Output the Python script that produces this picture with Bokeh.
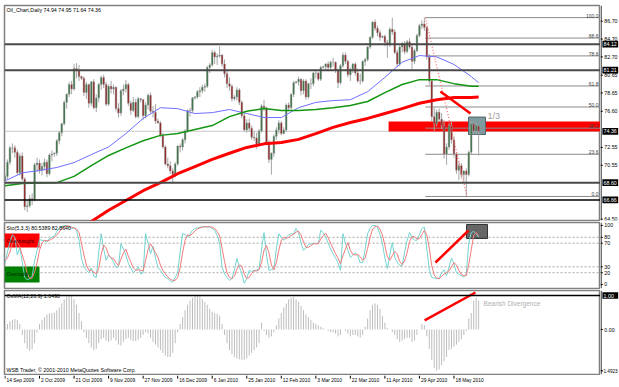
from bokeh.plotting import figure
from bokeh.models import Range1d, Span, ColumnDataSource
from bokeh.layouts import column, row
from bokeh.embed import file_html
from bokeh.resources import INLINE
from bokeh.core.properties import value

# ---------------- data ----------------
opens = [68.9,69.3,70.9,72.5,72.5,72.0,69.7,71.6,69.0,65.9,
         66.0,66.8,66.7,70.6,70.8,70.0,70.4,70.9,69.6,71.7,
         71.8,71.9,73.3,74.2,75.2,77.6,78.5,79.6,79.1,81.4,
         81.2,80.5,80.3,78.7,79.6,77.5,79.9,77.0,78.1,79.6,
         80.4,79.6,77.4,79.4,79.1,79.3,76.9,76.4,78.9,79.1,
         79.6,77.5,76.7,77.6,76.0,78.0,77.9,76.1,77.3,78.4,
         76.6,76.5,75.5,75.3,73.9,72.6,70.7,70.5,69.9,69.5,
         70.7,72.7,72.6,73.4,74.4,76.7,76.7,78.1,78.2,78.8,
         78.9,79.3,79.4,81.5,81.8,83.2,82.7,82.8,82.9,81.9,
         80.8,79.7,79.4,78.0,78.2,79.0,77.6,76.1,74.5,75.3,
         74.7,73.7,73.6,72.9,74.4,77.2,77.0,73.1,71.2,71.9,
         73.8,74.5,75.3,74.1,74.5,77.3,77.0,78.5,79.8,79.9,
         80.2,78.9,80.0,78.2,79.7,79.7,80.9,80.9,80.2,81.5,
         81.6,81.9,81.5,82.1,82.1,81.2,79.8,81.7,82.9,82.2,
         80.7,81.3,81.9,80.9,80.0,80.0,82.2,82.4,83.8,84.9,
         86.6,85.9,85.4,84.9,85.0,84.3,84.1,85.8,85.5,83.2,
         81.9,83.8,84.2,83.3,84.4,83.8,82.2,83.4,85.1,86.2,
         86.4,86.0,82.7,80.0,76.0,75.2,76.5,75.7,75.0,71.8,
         72.6,75.0,73.4,71.8,70.0,70.5,69.5,69.9,69.5,72.0,
         75.2,74.4,74.94]
highs = [69.6,71.2,72.7,73.0,72.8,72.3,71.9,72.0,69.2,66.6,
         67.2,67.4,70.8,71.4,71.2,70.8,71.3,71.2,71.9,72.2,
         72.0,73.5,74.4,75.3,77.8,78.6,79.9,80.0,81.9,82.0,
         81.8,80.6,80.5,79.9,79.7,80.0,80.2,78.5,79.8,80.6,
         80.7,79.9,79.6,80.0,79.6,79.4,77.5,79.1,79.6,80.1,
         79.8,77.8,78.2,78.0,78.2,78.1,78.0,77.6,78.6,78.7,
         77.2,77.4,75.8,75.5,74.2,72.8,71.4,71.0,70.2,70.9,
         72.8,73.0,73.6,74.6,76.8,77.0,78.2,78.3,79.0,79.3,
         79.6,79.7,81.7,82.0,83.5,83.4,83.1,83.9,83.0,82.4,
         81.2,80.4,79.6,78.4,79.3,79.2,77.8,76.4,75.7,75.8,
         75.0,74.4,74.2,74.6,77.4,77.9,77.1,73.4,72.0,74.0,
         74.8,75.6,75.5,74.8,77.5,77.6,78.6,80.0,80.0,80.5,
         80.3,80.2,80.2,79.8,80.3,81.0,81.2,81.0,81.7,81.7,
         82.0,82.2,82.3,82.6,82.2,81.4,81.9,83.2,83.2,82.4,
         81.5,82.0,82.1,81.4,80.8,82.3,82.6,83.9,85.0,86.7,
         86.9,86.2,85.7,85.1,85.2,84.6,86.0,87.1,85.8,83.5,
         84.0,84.4,84.5,84.6,84.8,84.2,83.6,85.3,86.4,86.8,
         87.1,86.2,83.0,80.2,77.0,76.8,76.9,76.4,75.6,73.0,
         75.3,75.4,73.8,72.0,70.9,70.8,70.0,70.2,72.2,75.5,
         75.5,75.3,74.95]
lows = [68.4,69.0,70.6,71.9,71.4,69.5,69.4,68.8,65.5,65.3,
        65.8,66.1,66.5,69.8,69.6,69.4,70.0,69.2,69.4,71.0,
        71.5,71.6,72.9,73.8,75.0,76.9,78.2,78.5,78.9,80.3,
        80.0,80.1,78.3,78.0,77.0,77.2,76.8,76.5,77.6,79.0,
        79.2,77.2,77.2,78.6,78.5,76.6,75.9,76.1,78.4,78.7,
        77.2,76.2,76.5,75.8,75.8,77.6,75.6,75.8,76.8,76.4,
        75.9,75.2,75.2,73.7,72.4,70.5,70.2,69.6,68.6,69.2,
        70.5,72.0,72.2,73.0,74.2,76.0,76.5,77.9,78.0,78.2,
        78.6,78.8,79.2,80.9,81.6,81.9,81.8,82.6,81.6,80.4,
        79.2,78.9,77.7,77.8,77.8,77.3,75.8,74.3,74.2,74.3,
        73.4,73.3,72.4,72.7,74.2,76.6,72.9,70.8,69.5,71.5,
        73.4,74.1,73.9,74.0,74.3,76.6,76.8,78.2,79.7,79.5,
        78.4,78.5,77.9,78.0,79.1,79.4,80.3,80.0,80.0,81.4,
        81.2,81.1,81.3,81.6,80.9,79.2,79.6,81.5,81.9,80.4,
        80.0,80.9,80.6,79.8,79.6,79.8,81.7,82.2,83.6,84.7,
        85.6,85.0,84.5,84.8,83.9,82.6,83.8,85.2,83.0,81.6,
        81.7,83.2,83.0,83.1,83.6,81.3,81.9,83.2,84.9,85.8,
        85.6,82.4,79.6,75.5,74.4,74.9,75.4,74.6,71.3,70.6,
        72.3,73.0,71.4,69.6,68.9,69.1,68.8,67.1,69.3,71.8,
        74.0,74.0,71.64]
closes = [69.3,70.9,72.5,72.5,72.0,69.7,71.6,69.0,65.9,66.0,
          66.8,66.7,70.6,70.8,70.0,70.4,70.9,69.6,71.7,71.8,
          71.9,73.3,74.2,75.2,77.6,78.5,79.6,79.1,81.4,81.2,
          80.5,80.3,78.7,79.6,77.5,79.9,77.0,78.1,79.6,80.4,
          79.6,77.4,79.4,79.1,79.3,76.9,76.4,78.9,79.1,79.6,
          77.5,76.7,77.6,76.0,78.0,77.9,76.1,77.3,78.4,76.6,
          76.5,75.5,75.3,73.9,72.6,70.7,70.5,69.9,69.5,70.7,
          72.7,72.6,73.4,74.4,76.7,76.7,78.1,78.2,78.8,78.9,
          79.3,79.4,81.5,81.8,83.2,82.7,82.8,82.9,81.9,80.8,
          79.7,79.4,78.0,78.2,79.0,77.6,76.1,74.5,75.3,74.7,
          73.7,73.6,72.9,74.4,77.2,77.0,73.1,71.2,71.9,73.8,
          74.5,75.3,74.1,74.5,77.3,77.0,78.5,79.8,79.9,80.2,
          78.9,80.0,78.2,79.7,79.7,80.9,80.9,80.2,81.5,81.6,
          81.9,81.5,82.1,82.1,81.2,79.8,81.7,82.9,82.2,80.7,
          81.3,81.9,80.9,80.0,80.0,82.2,82.4,83.8,84.9,86.6,
          85.9,85.4,84.9,85.0,84.3,84.1,85.8,85.5,83.2,81.9,
          83.8,84.2,83.3,84.4,83.8,82.2,83.4,85.1,86.2,86.4,
          86.0,82.7,80.0,76.0,75.2,76.5,75.7,75.0,71.8,72.6,
          75.0,73.4,71.8,70.0,70.5,69.5,69.9,69.5,72.0,75.2,
          74.4,75.0,74.36]

ma_idx = [0,7,14,21,28,35,42,49,56,63,70,77,84,91,98,105,112,119,126,133,140,147,154,161,168,175,182,189,192]
ma_blue = [68.8,69.7,69.96,70.3,70.85,71.75,72.6,74.1,75.8,77.0,76.9,76.35,76.45,76.8,76.35,75.9,75.9,77.0,77.6,77.8,77.9,78.8,80.4,82.1,82.85,82.7,81.85,80.5,79.8]
ma_green = [68.26,68.5,68.56,68.6,69.3,70.5,71.65,72.5,73.3,73.9,74.1,74.55,75.0,76.0,76.6,76.9,76.7,76.7,76.8,77.0,77.25,77.7,78.7,79.6,80.15,80.15,79.7,79.4,79.4]
ma_red_idx = [28,35,42,49,56,63,70,77,84,91,98,105,112,119,126,133,140,147,154,161,168,175,182,189,192]
ma_red = [63.0,64.25,65.5,66.6,67.7,68.6,69.6,70.4,71.2,71.9,72.55,72.95,73.1,73.45,74.1,74.8,75.35,75.8,76.35,76.9,77.5,77.9,78.15,78.15,78.2]

stoch_k = [36,55,72,84,80,50,62,38,12,8,
           10,14,40,58,76,75,74,72,78,80,
           82,90,96,98,100,100,97,95,96,92,
           75,45,29,24,20,28,14,12,55,86,
           60,41,50,45,38,29,30,69,60,50,
           36,28,20,24,30,18,20,86,70,52,
           65,45,29,24,18,12,10,6,4,12,
           20,55,86,85,80,85,92,95,96,97,
           98,98,97,98,95,92,83,70,29,18,
           12,7,10,25,44,30,18,2,10,24,
           22,24,24,27,60,88,50,24,25,27,
           60,86,80,75,80,84,86,86,95,88,
           70,58,62,68,69,69,70,69,92,88,
           80,70,60,52,45,37,24,86,70,58,
           46,50,54,49,37,37,60,86,95,100,
           100,97,85,69,45,27,50,71,46,38,
           32,32,55,75,88,80,75,75,85,95,
           97,60,25,12,11,10,10,20,25,15,
           30,45,35,20,17,15,13,18,70,88,
           90,86,80.54]
stoch_d = [40,45,55,70,78,72,64,50,37,19,
           10,11,21,37,58,70,75,74,75,77,
           80,84,89,95,98,99,99,97,96,94,
           88,70,50,33,24,24,21,18,27,51,
           67,62,50,45,44,37,32,43,53,60,
           48,38,28,24,25,24,23,41,59,69,
           62,54,46,33,24,18,13,9,7,7,
           12,29,54,75,84,83,86,91,94,96,
           97,98,98,98,97,95,90,82,61,39,
           20,12,10,14,26,33,31,17,10,12,
           19,23,23,25,37,58,66,54,33,25,
           37,58,75,80,78,80,83,85,89,90,
           84,72,63,63,66,69,69,69,77,83,
           87,79,70,61,52,45,35,49,60,71,
           58,51,50,51,47,41,45,61,80,94,
           98,99,94,84,66,47,41,49,56,52,
           39,34,40,54,73,81,81,77,78,85,
           92,84,61,32,16,11,10,14,18,20,
           23,30,37,33,24,17,15,15,34,59,
           83,88,82.86]
osma = [0.10,0.20,0.30,0.35,0.38,0.35,0.20,-0.20,-0.50,-0.70,
        -0.78,-0.72,-0.50,-0.10,0.20,0.35,0.45,0.55,0.58,0.60,
        0.62,0.70,0.80,0.95,1.10,1.20,1.25,1.24,1.10,0.90,
        0.60,0.30,-0.10,-0.30,-0.50,-0.65,-0.75,-0.70,-0.50,-0.35,
        -0.30,-0.40,-0.46,-0.40,-0.30,-0.40,-0.55,-0.58,-0.45,-0.35,
        -0.30,-0.38,-0.42,-0.42,-0.38,-0.30,-0.20,-0.10,-0.15,-0.30,
        -0.45,-0.55,-0.65,-0.75,-0.85,-0.95,-1.00,-1.00,-0.85,-0.50,
        -0.10,0.20,0.45,0.70,0.90,1.05,1.15,1.22,1.24,1.20,
        1.10,1.00,0.90,0.75,0.65,0.60,0.57,0.50,0.20,-0.20,
        -0.50,-0.75,-0.90,-1.00,-1.05,-1.08,-1.10,-1.10,-1.05,-0.95,
        -0.85,-0.75,-0.65,-0.50,0.25,-0.05,-0.20,-0.30,-0.25,-0.10,
        0.15,0.40,0.60,0.80,0.95,1.10,1.15,1.18,1.10,1.00,
        0.85,0.70,0.55,0.45,0.35,0.25,0.20,0.15,0.10,0.05,
        0.00,-0.05,-0.10,-0.10,-0.15,-0.25,-0.20,0.00,-0.05,-0.15,
        -0.25,-0.20,-0.20,-0.25,-0.30,-0.20,0.10,0.40,0.70,0.90,
        0.95,0.90,0.75,0.50,0.25,0.05,0.00,-0.10,-0.20,-0.35,
        -0.45,-0.40,-0.35,-0.30,-0.30,-0.45,-0.40,-0.20,0.00,0.20,
        0.15,-0.25,-0.70,-1.10,-1.40,-1.49,-1.45,-1.30,-1.15,-1.00,
        -0.75,-0.70,-0.62,-0.55,-0.45,-0.35,-0.20,-0.05,0.40,0.60,
        1.05,1.15,1.05]

date_ticks = [0,14,28,42,56,70,84,98,112,126,140,154,168,182]
date_labels = ["14 Sep 2009","2 Oct 2009","21 Oct 2009","9 Nov 2009","27 Nov 2009",
               "16 Dec 2009","6 Jan 2010","25 Jan 2010","12 Feb 2010","3 Mar 2010",
               "22 Mar 2010","11 Apr 2010","29 Apr 2010","18 May 2010"]
price_ticks = [86.70,84.70,82.70,80.65,78.65,76.60,72.55,70.55,64.50]
price_tick_labels = ["86.70","84.70","82.70","80.65","78.65","76.60","72.55","70.55","64.50"]
stoch_ticks = [100,80,70,30,20,0]
stoch_tick_labels = ["100","80","70","30","20","0"]
stoch_levels = [80,70,30,20]
osma_ticks = [0.0]
osma_tick_labels = ["0.00"]
hlines = [84.12,81.21,68.60,66.66]
hline_labels = ["84.12","81.21","68.60","66.66"]
last_price = 74.36
last_label = "74.36"
fib_names = ["100.0","88.6","78.6","61.8","50.0","38.2","23.6","0.0"]
fib_prices = [87.10,84.81,82.81,79.44,77.08,74.71,71.78,67.05]
fib_anchor_idx = [170.4,187.3]
zone_price = [74.33,75.46]
trend_idx = [176.5,188.7]
trend_price = [78.82,76.35]
box_idx = [187.9,194.8]
box_price = [74.0,75.95]
sto_line_idx = [174.5,187.9]
sto_line_val = [37.3,91.5]
osma_line_idx = [170.1,190.7]
osma_line_val = [0.33,1.345]
osma_low = -1.4923
osma_low_label = "-1.4923"
osma_mark = 1.236
osma_mark_label = "1.00"

FONT = value("Liberation Sans")
FS = value("5.3px")
XR = Range1d(-0.2, 241.4)


def panel(fh, yr, top, bottom):
    p = figure(frame_width=596, frame_height=fh, x_range=XR, y_range=yr,
               output_backend="svg", toolbar_location=None,
               min_border_left=4, min_border_right=0,
               min_border_top=top, min_border_bottom=bottom,
               x_axis_location=None, y_axis_location=None)
    p.grid.visible = False
    p.outline_line_color = "#808080"
    p.outline_line_width = 1.5
    p.background_fill_color = "white"
    p.border_fill_color = "white"
    return p


def strip(fh, yr, top, bottom, ticks, labels):
    s = figure(frame_width=19, frame_height=fh, x_range=Range1d(0, 1), y_range=yr,
               output_backend="svg", toolbar_location=None,
               min_border_left=0, min_border_right=0,
               min_border_top=top, min_border_bottom=bottom,
               x_axis_location=None, y_axis_location=None)
    s.grid.visible = False
    s.outline_line_color = None
    s.border_fill_color = "white"
    s.add_layout(Span(location=0.03, dimension="height", line_color="black", line_width=1))
    s.segment(x0=[0] * len(ticks), y0=ticks, x1=[0.12] * len(ticks), y1=ticks,
              line_color="black", line_width=1)
    s.text(x=[0.2] * len(ticks), y=ticks, text=labels, text_baseline="middle",
           text_font=FONT, text_font_size=FS, text_color="black")
    return s


def tags(s, ys, labels, half_h):
    s.quad(left=[0.1] * len(ys), right=[0.93] * len(ys),
           bottom=[y - half_h for y in ys], top=[y + half_h for y in ys],
           fill_color="black", line_color=None)
    s.text(x=[0.16] * len(ys), y=ys, text=labels, text_baseline="middle",
           text_font=FONT, text_font_size=FS, text_color="white")


# ---------------- main price panel ----------------
YR1 = Range1d(64.357, 88.46)
p1 = panel(215, YR1, 5, 1)

idx = list(range(len(closes)))
body_top = [max(o, c) for o, c in zip(opens, closes)]
body_bot = [min(o, c) for o, c in zip(opens, closes)]
cols = ["#2e6e3c" if c >= o else "#8e1616" for o, c in zip(opens, closes)]
src = ColumnDataSource(dict(x=idx, h=highs, l=lows, t=body_top, b=body_bot, col=cols))

p1.quad(left=[155.5], right=[242], bottom=[zone_price[0]], top=[zone_price[1]],
        fill_color="#ff0000", line_color=None)
p1.quad(left=[box_idx[0]], right=[box_idx[1]], bottom=[box_price[0]], top=[box_price[1]],
        fill_color="#7f9ba0", line_color="#506468", line_width=1)
p1.segment(x0=[fib_anchor_idx[0]] * len(fib_prices), y0=fib_prices, x1=[241.4] * len(fib_prices),
           y1=fib_prices, line_color="#8c8c8c", line_width=1)
p1.add_layout(Span(location=last_price, dimension="width", line_color="#c8c8c8", line_width=1,
                   level="underlay"))

p1.segment(x0="x", y0="l", x1="x", y1="h", source=src, line_color="#a6a6a6", line_width=1)
p1.vbar(x="x", width=0.65, top="t", bottom="b", source=src, fill_color="col",
        line_color="#9a9a9a", line_width=0.5)

p1.line(ma_idx, ma_blue, line_color="#6f6fff", line_width=1)
p1.line(ma_idx, ma_green, line_color="#129612", line_width=1.5)
p1.line(ma_red_idx, ma_red, line_color="#ff0000", line_width=3)

for i, h in enumerate(hlines):
    p1.add_layout(Span(location=h, dimension="width",
                       line_color="#000000" if i == 3 else "#484848",
                       line_width=1.5 if i == 3 else 2))

p1.line(fib_anchor_idx, [fib_prices[0], fib_prices[-1]], line_color="#ff6a6a",
        line_width=1.2, line_dash="1 2")
p1.line(trend_idx, trend_price, line_color="#ff0000", line_width=2.5)

p1.text(x=[240.6] * len(fib_prices), y=fib_prices, text=fib_names, text_align="right",
        text_baseline="bottom", text_font=FONT, text_font_size=value("5px"),
        text_color="#404040")
p1.text(x=[0.6], y=[87.9], text=["Oil_Chart,Daily  74.94 74.95 71.64 74.36"],
        text_baseline="middle", text_font=FONT, text_font_size=FS, text_color="black")
p1.text(x=[195.6], y=[76.1], text=["1/3"], text_baseline="middle",
        text_font=FONT, text_font_size=value("9px"), text_color="#a0a0a0")

s1 = strip(215, YR1, 5, 1, price_ticks, price_tick_labels)
tags(s1, hlines + [last_price], hline_labels + [last_label], 0.38)

# ---------------- stochastic panel ----------------
YR2 = Range1d(-6.78, 105.08)
p2 = panel(66, YR2, 1, 1)
p2.quad(left=[-0.2], right=[14.0], bottom=[62.7], top=[86.4], fill_color="#ff0000", line_color=None)
p2.quad(left=[-0.2], right=[14.0], bottom=[3.4], top=[30.5], fill_color="#008000", line_color=None)
p2.quad(left=[187.1], right=[195.6], bottom=[78.0], top=[101.7], fill_color="#555555",
        fill_alpha=0.9, line_color="#333333")
for lv in stoch_levels:
    p2.add_layout(Span(location=lv, dimension="width", line_color="#a8a8a8", line_width=1,
                       line_dash="2 2", level="underlay"))
p2.line(idx, stoch_k, line_color="#72d4d0", line_width=1)
p2.line(idx, stoch_d, line_color="#f47a7a", line_width=1)
p2.line(sto_line_idx, sto_line_val, line_color="#ff0000", line_width=2.5)
p2.text(x=[0.6], y=[95], text=["Sto(5,3,3) 80.5389 82.8640"], text_baseline="middle",
        text_font=FONT, text_font_size=FS, text_color="black")
p2.text(x=[0.6], y=[74.5], text=["Overbought"], text_baseline="middle",
        text_font=FONT, text_font_size=FS, text_color="#3a0000")
p2.text(x=[0.6], y=[17], text=["Oversold"], text_baseline="middle",
        text_font=FONT, text_font_size=FS, text_color="#002000")
s2 = strip(66, YR2, 1, 1, stoch_ticks, stoch_tick_labels)

# ---------------- OsMA panel ----------------
YR3 = Range1d(-1.636, 1.418)
p3 = panel(84, YR3, 1, 1)
p3.segment(x0=idx, y0=[0] * len(osma), x1=idx, y1=osma, line_color="#bdbdbd", line_width=1)
p3.add_layout(Span(location=osma_mark, dimension="width", line_color="black", line_width=1.5))
p3.line(osma_line_idx, osma_line_val, line_color="#ff0000", line_width=2.5)
p3.text(x=[0.6], y=[1.2], text=["OsMA(12,26,9) 1.0490"], text_baseline="middle",
        text_font=FONT, text_font_size=FS, text_color="black")
p3.text(x=[194.0], y=[0.95], text=["Bearish Divergence"], text_baseline="middle",
        text_font=FONT, text_font_size=value("6.5px"), text_color="#b0b0b0")
p3.text(x=[0.6], y=[-1.49], text=["WSB Trader, \u00a9 2001-2010 MetaQuotes Software Corp."],
        text_baseline="middle", text_font=FONT, text_font_size=FS, text_color="black")
s3 = strip(84, YR3, 1, 1, osma_ticks, osma_tick_labels)
s3.segment(x0=[0], y0=[osma_low], x1=[0.12], y1=[osma_low], line_color="black", line_width=1)
s3.text(x=[0.07], y=[osma_low], text=[osma_low_label], text_baseline="middle",
        text_font=FONT, text_font_size=value("4.7px"), text_color="black")
tags(s3, [osma_mark], [osma_mark_label], 0.12)

# ---------------- date strip ----------------
p4 = figure(frame_width=596, frame_height=12, x_range=XR, y_range=Range1d(0, 1),
            output_backend="svg", toolbar_location=None,
            min_border_left=4, min_border_right=19, min_border_top=0, min_border_bottom=0,
            x_axis_location=None, y_axis_location=None)
p4.grid.visible = False
p4.outline_line_color = None
p4.border_fill_color = "white"
p4.segment(x0=date_ticks, y0=[1] * len(date_ticks), x1=date_ticks, y1=[0.74] * len(date_ticks),
           line_color="black", line_width=1)
p4.text(x=[t + 0.6 for t in date_ticks], y=[0.6] * len(date_ticks), text=date_labels,
        text_baseline="middle", text_font=FONT, text_font_size=value("4.9px"), text_color="black")

layout = column(row(p1, s1, spacing=0), row(p2, s2, spacing=0), row(p3, s3, spacing=0), p4,
                spacing=0)
open("out.html", "w").write(file_html(layout, INLINE))
